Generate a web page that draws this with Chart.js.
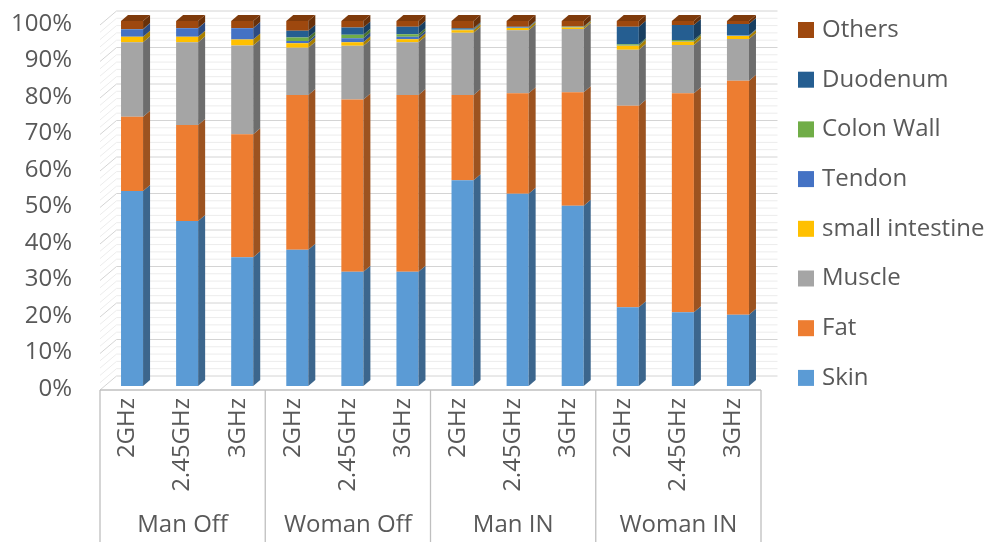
<!DOCTYPE html>
<html>
<head>
<meta charset="utf-8">
<script src="https://cdn.jsdelivr.net/npm/chart.js@4"></script>
<style>
  html, body { margin: 0; padding: 0; background: #fff; }
  #wrap { width: 995px; height: 542px; position: relative; }
</style>
</head>
<body>
<div id="wrap"><canvas id="tissueChart"></canvas></div>
<script>
// Categories
const groups = ["Man Off", "Woman Off", "Man IN", "Woman IN"]
const freqs = ["2GHz", "2.45GHz", "3GHz"]

// Series values (% share per tissue), one value per bar
const skin = [53.4, 45.2, 35.3, 37.3, 31.3, 31.3, 56.4, 52.7, 49.4, 21.6, 20.2, 19.5]
const fat = [20.4, 26.3, 33.7, 42.4, 47.2, 48.4, 23.3, 27.5, 31.1, 55.2, 60.0, 64.1]
const muscle = [20.4, 22.7, 24.3, 13.0, 14.7, 14.5, 17.1, 17.3, 17.3, 15.3, 13.2, 11.5]
const smallIntestine = [1.5, 1.5, 1.6, 1.2, 1.0, 0.8, 0.7, 0.6, 0.4, 1.1, 0.9, 0.8]
const tendon = [2.0, 2.3, 3.1, 0.6, 1.1, 0.7, 0.2, 0.1, 0.1, 0.1, 0.1, 0.1]
const colonWall = [0, 0, 0, 1.0, 0.9, 0.7, 0.1, 0.1, 0.1, 0.3, 0.4, 0.1]
const duodenum = [0.1, 0.1, 0.1, 1.8, 2.0, 2.0, 0.2, 0.1, 0.1, 4.8, 4.1, 3.1]
const others = [2.2, 1.9, 1.9, 2.7, 1.8, 1.6, 2.0, 1.6, 1.5, 1.6, 1.1, 0.8]

const seriesNames = ["Skin", "Fat", "Muscle", "small intestine", "Tendon", "Colon Wall", "Duodenum", "Others"]
const seriesData = [skin, fat, muscle, smallIntestine, tendon, colonWall, duodenum, others]
const seriesColors = ["#5B9BD5", "#ED7D31", "#A5A5A5", "#FFC000", "#4472C4", "#70AD47", "#255E91", "#9E480E"]

const FONT = "'Open Sans', 'Noto Sans', sans-serif"
const FONT_SIZE = 24
const TEXT = "#595959"

// 3D look: bar depth, offset of the back wall and of the front (axis) plane
const BAR_DX = 7, BAR_DY = -6
const WALL_DX = 12, WALL_DY = -10
const AXIS_DX = -4.5, AXIS_DY = 4

function shade(hex, f) {
  const n = parseInt(hex.slice(1), 16)
  const r = Math.round(((n >> 16) & 255) * f)
  const g = Math.round(((n >> 8) & 255) * f)
  const b = Math.round((n & 255) * f)
  return `rgb(${r},${g},${b})`
}

const labels = groups.flatMap(() => freqs)

const threeD = {
  id: "threeD",
  beforeDatasetsDraw(chart) {
    const { ctx, chartArea: area, scales: { y } } = chart
    ctx.save()
    ctx.lineWidth = 1
    for (let v = 0; v <= 100; v += 2) {
      const py = y.getPixelForValue(v)
      ctx.strokeStyle = v % 10 === 0 ? "#D4D4D4" : "#ECECEC"
      // back wall
      ctx.beginPath()
      ctx.moveTo(area.left + WALL_DX, py + WALL_DY)
      ctx.lineTo(area.right + WALL_DX, py + WALL_DY)
      ctx.stroke()
      // left side wall
      ctx.beginPath()
      ctx.moveTo(area.left + AXIS_DX, py + AXIS_DY)
      ctx.lineTo(area.left + WALL_DX, py + WALL_DY)
      ctx.stroke()
    }
    ctx.restore()
  },
  afterDatasetsDraw(chart) {
    const { ctx } = chart
    ctx.save()
    const last = chart.data.datasets.length - 1
    chart.data.datasets.forEach((ds, di) => {
      const meta = chart.getDatasetMeta(di)
      meta.data.forEach((bar) => {
        const { x, y, base, width } = bar.getProps(["x", "y", "base", "width"], true)
        const left = x - width / 2, right = x + width / 2
        const top = Math.min(y, base), bottom = Math.max(y, base)
        if (bottom - top < 0.05) return
        ctx.fillStyle = shade(ds.backgroundColor, 0.66)
        ctx.beginPath()
        ctx.moveTo(right, top)
        ctx.lineTo(right + BAR_DX, top + BAR_DY)
        ctx.lineTo(right + BAR_DX, bottom + BAR_DY)
        ctx.lineTo(right, bottom)
        ctx.closePath()
        ctx.fill()
        if (di === last) {
          ctx.fillStyle = shade(ds.backgroundColor, 0.8)
          ctx.beginPath()
          ctx.moveTo(left, top)
          ctx.lineTo(left + BAR_DX, top + BAR_DY)
          ctx.lineTo(right + BAR_DX, top + BAR_DY)
          ctx.lineTo(right, top)
          ctx.closePath()
          ctx.fill()
        }
      })
    })
    ctx.restore()
  },
  afterDraw(chart) {
    const { ctx, chartArea: area, scales: { x } } = chart
    const catW = x.getPixelForValue(1) - x.getPixelForValue(0)
    const x0 = x.getPixelForValue(0) - catW / 2 + AXIS_DX
    const axisY = area.bottom + AXIS_DY
    ctx.save()
    ctx.strokeStyle = "#BFBFBF"
    ctx.lineWidth = 1.3
    ctx.beginPath()
    ctx.moveTo(x0, axisY)
    ctx.lineTo(x0 + catW * labels.length, axisY)
    ctx.stroke()
    for (let g = 0; g <= groups.length; g++) {
      const gx = x0 + g * freqs.length * catW
      ctx.beginPath()
      ctx.moveTo(gx, axisY)
      ctx.lineTo(gx, chart.height)
      ctx.stroke()
    }
    ctx.fillStyle = TEXT
    ctx.font = `${FONT_SIZE}px ${FONT}`
    ctx.textAlign = "center"
    ctx.textBaseline = "middle"
    groups.forEach((name, g) => {
      ctx.fillText(name, x0 + (g + 0.5) * freqs.length * catW, 525)
    })

    // legend, top item is the last series
    ctx.textAlign = "left"
    const ds = chart.data.datasets
    for (let r = 0; r < ds.length; r++) {
      const item = ds[ds.length - 1 - r]
      const yc = 30 + r * 49.7
      ctx.fillStyle = item.backgroundColor
      ctx.fillRect(798, yc - 8, 16, 16)
      ctx.fillStyle = TEXT
      ctx.fillText(item.label, 822, yc)
    }
    ctx.restore()
  },
}

new Chart(document.getElementById("tissueChart"), {
  type: "bar",
  data: {
    labels: labels,
    datasets: seriesNames.map((name, i) => ({
      label: name,
      data: seriesData[i],
      backgroundColor: seriesColors[i],
      borderWidth: 0,
      categoryPercentage: 1,
      barPercentage: 0.4,
    })),
  },
  options: {
    responsive: true,
    maintainAspectRatio: false,
    animation: false,
    layout: { padding: { top: 21, right: 229.5, left: 0, bottom: 0 } },
    plugins: {
      legend: { display: false },
      tooltip: { enabled: false },
    },
    scales: {
      x: {
        stacked: true,
        grid: { display: false, drawTicks: false },
        border: { display: false },
        afterFit: (scale) => {
          scale.height = 156
          scale.paddingLeft = 0
          scale.paddingRight = 0
          scale.paddingTop = 0
          scale.paddingBottom = 0
        },
        ticks: {
          autoSkip: false,
          minRotation: 90,
          maxRotation: 90,
          padding: 12,
          labelOffset: AXIS_DX,
          color: TEXT,
          font: { family: FONT, size: FONT_SIZE },
        },
      },
      y: {
        stacked: true,
        min: 0,
        max: 100,
        grid: { display: false, drawTicks: false },
        border: { display: false },
        afterFit: (scale) => {
          scale.width = 104.5
          scale.paddingTop = 0
          scale.paddingBottom = 0
          scale.paddingLeft = 0
          scale.paddingRight = 0
        },
        ticks: {
          stepSize: 10,
          padding: 32.5,
          labelOffset: 3,
          color: TEXT,
          font: { family: FONT, size: FONT_SIZE },
          callback: (v) => v + "%",
        },
      },
    },
  },
  plugins: [threeD],
})
</script>
</body>
</html>
